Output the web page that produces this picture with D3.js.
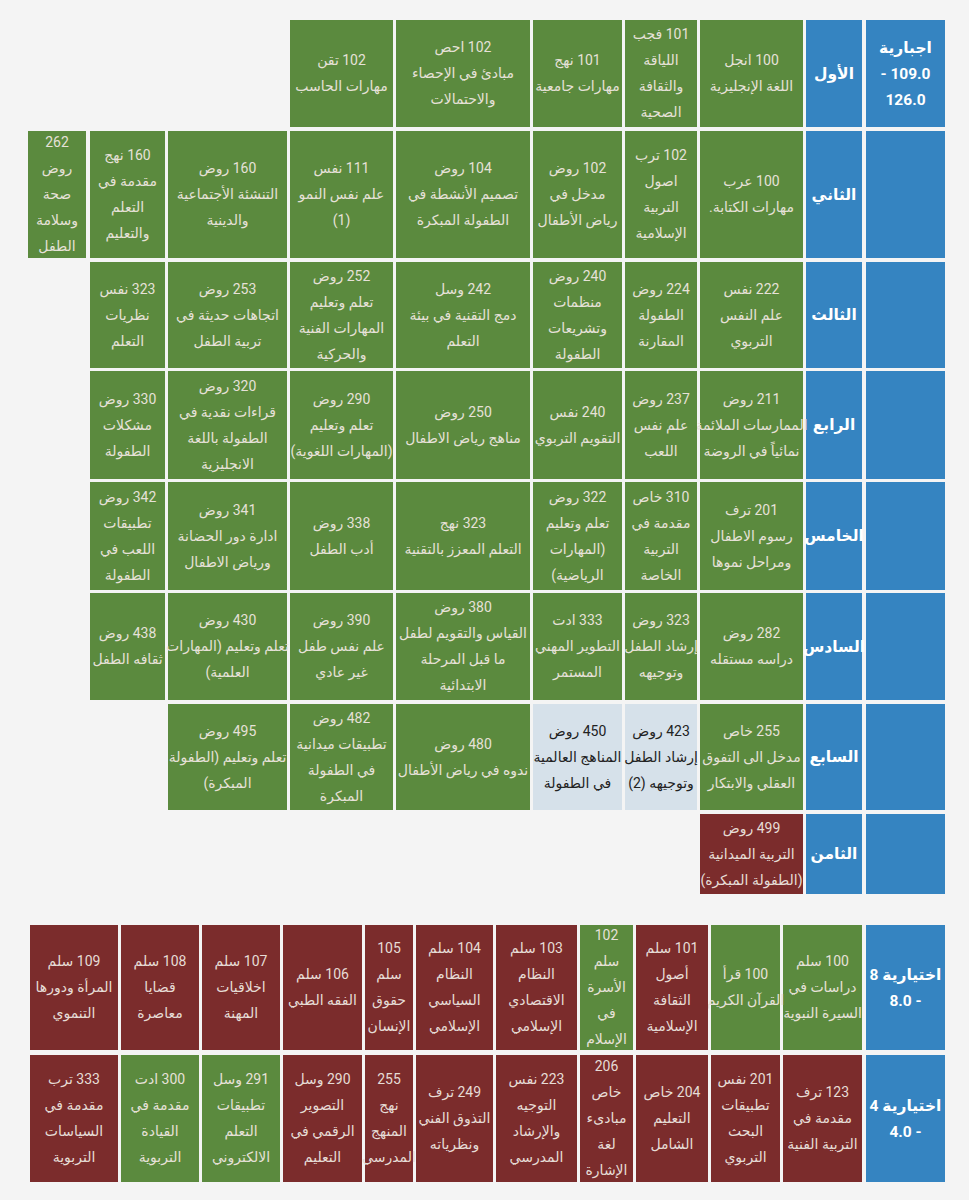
<!DOCTYPE html>
<html><head><meta charset="utf-8">
<script src="https://cdn.jsdelivr.net/npm/d3@7"></script>
<style>body{margin:0;background:#f4f4f4}</style>
</head><body>
<script>
// semester rows, right to left; tag: g = green, r = red, l = light
let semesters = ['الأول', 'الثاني', 'الثالث', 'الرابع', 'الخامس', 'السادس', 'السابع', 'الثامن'];
let semesterCourses = [
    [['g','100 انجل|اللغة الإنجليزية'], ['g','101 فجب|اللياقة|والثقافة|الصحية'], ['g','101 نهج|مهارات جامعية'], ['g','102 احص|مبادئ في الإحصاء|والاحتمالات'], ['g','102 تقن|مهارات الحاسب']],
    [['g','100 عرب|مهارات الكتابة.'], ['g','102 ترب|اصول|التربية|الإسلامية'], ['g','102 روض|مدخل في|رياض الأطفال'], ['g','104 روض|تصميم الأنشطة في|الطفولة المبكرة'], ['g','111 نفس|علم نفس النمو|(1)'], ['g','160 روض|التنشئة الأجتماعية|والدينية'], ['g','160 نهج|مقدمة في|التعلم|والتعليم'], ['g','262|روض|صحة|وسلامة|الطفل']],
    [['g','222 نفس|علم النفس|التربوي'], ['g','224 روض|الطفولة|المقارنة'], ['g','240 روض|منظمات|وتشريعات|الطفولة'], ['g','242 وسل|دمج التقنية في بيئة|التعلم'], ['g','252 روض|تعلم وتعليم|المهارات الفنية|والحركية'], ['g','253 روض|اتجاهات حديثة في|تربية الطفل'], ['g','323 نفس|نظريات|التعلم']],
    [['g','211 روض|الممارسات الملائمة|نمائياً في الروضة'], ['g','237 روض|علم نفس|اللعب'], ['g','240 نفس|التقويم التربوي'], ['g','250 روض|مناهج رياض الاطفال'], ['g','290 روض|تعلم وتعليم|(المهارات اللغوية)'], ['g','320 روض|قراءات نقدية في|الطفولة باللغة|الانجليزية'], ['g','330 روض|مشكلات|الطفولة']],
    [['g','201 ترف|رسوم الاطفال|ومراحل نموها'], ['g','310 خاص|مقدمة في|التربية|الخاصة'], ['g','322 روض|تعلم وتعليم|(المهارات|الرياضية)'], ['g','323 نهج|التعلم المعزز بالتقنية'], ['g','338 روض|أدب الطفل'], ['g','341 روض|ادارة دور الحضانة|ورياض الاطفال'], ['g','342 روض|تطبيقات|اللعب في|الطفولة']],
    [['g','282 روض|دراسه مستقله'], ['g','323 روض|إرشاد الطفل|وتوجيهه'], ['g','333 ادت|التطوير المهني|المستمر'], ['g','380 روض|القياس والتقويم لطفل|ما قبل المرحلة|الابتدائية'], ['g','390 روض|علم نفس طفل|غير عادي'], ['g','430 روض|تعلم وتعليم (المهارات|العلمية)'], ['g','438 روض|ثقافه الطفل']],
    [['g','255 خاص|مدخل الى التفوق|العقلي والابتكار'], ['l','423 روض|إرشاد الطفل|وتوجيهه (2)'], ['l','450 روض|المناهج العالمية|في الطفولة'], ['g','480 روض|ندوه في رياض الأطفال'], ['g','482 روض|تطبيقات ميدانية|في الطفولة|المبكرة'], ['g','495 روض|تعلم وتعليم (الطفولة|المبكرة)']],
    [['r','499 روض|التربية الميدانية|(الطفولة المبكرة)']]
];
let requiredLabel = 'اجبارية|109.0 -|126.0';

let electiveLabels = ['اختيارية 8|- 8.0', 'اختيارية 4|- 4.0'];
let electiveCourses = [
    [['g','100 سلم|دراسات في|السيرة النبوية'], ['g','100 قرأ|القرآن الكريم'], ['r','101 سلم|أصول|الثقافة|الإسلامية'], ['g','102|سلم|الأسرة|في|الإسلام'], ['r','103 سلم|النظام|الاقتصادي|الإسلامي'], ['r','104 سلم|النظام|السياسي|الإسلامي'], ['r','105|سلم|حقوق|الإنسان'], ['r','106 سلم|الفقه الطبي'], ['r','107 سلم|اخلاقيات|المهنة'], ['r','108 سلم|قضايا|معاصرة'], ['r','109 سلم|المرأة ودورها|التنموي']],
    [['r','123 ترف|مقدمة في|التربية الفنية'], ['r','201 نفس|تطبيقات|البحث|التربوي'], ['r','204 خاص|التعليم|الشامل'], ['r','206|خاص|مبادىء|لغة|الإشارة'], ['r','223 نفس|التوجيه|والإرشاد|المدرسي'], ['r','249 ترف|التذوق الفني|ونظرياته'], ['r','255|نهج|المنهج|المدرسي'], ['r','290 وسل|التصوير|الرقمي في|التعليم'], ['g','291 وسل|تطبيقات|التعلم|الالكتروني'], ['g','300 ادت|مقدمة في|القيادة|التربوية'], ['r','333 ترب|مقدمة في|السياسات|التربوية']]
];

// layout
let fills = {g: '#5b8a3e', r: '#7b2c2c', l: '#d6e1ea', b: '#3584c1'};
let inks = {g: '#e6e1d8', r: '#e6dcd6', l: '#222', b: '#fff'};
let topCols = [[866,945],[806,862],[700,803],[625,697],[533,622],[396,530],[290,393],[168,287],[90,165],[28,86]];
let topRows = [[20,127],[131,258],[262,368],[371,479],[482,590],[593,700],[704,810],[814,894]];
let botCols = [[866,945],[783,862],[711,780],[636,708],[580,633],[496,577],[416,493],[365,413],[283,362],[202,280],[121,199],[30,118]];
let botRows = [[925,1050],[1055,1182]];

let svg = d3.select('body').append('svg').attr('width', 969).attr('height', 1200);
svg.append('rect').attr('width', 969).attr('height', 1200).attr('fill', '#f4f4f4');

function drawCell(x0, x1, y0, y1, kind, text, bold) {
    svg.append('rect').attr('x', x0).attr('y', y0).attr('width', x1 - x0).attr('height', y1 - y0).attr('fill', fills[kind]);
    let lines = text.split('|');
    let lh = 26;
    let cy = (y0 + y1) / 2 - (lines.length - 1) * lh / 2;
    let t = svg.append('text')
        .attr('text-anchor', 'middle')
        .attr('direction', 'rtl')
        .attr('font-family', "Roboto, 'DejaVu Sans', sans-serif")
        .attr('font-size', bold ? 15.5 : 14)
        .attr('font-weight', bold ? 'bold' : 'normal')
        .attr('fill', inks[kind]);
    lines.forEach((ln, i) => {
        t.append('tspan').attr('x', (x0 + x1) / 2).attr('y', cy + i * lh).attr('dy', '0.35em').text(ln);
    });
}

let topX = d3.scaleOrdinal().domain(d3.range(topCols.length)).range(topCols);
let topY = d3.scaleOrdinal().domain(semesters).range(topRows);

semesters.forEach((s, i) => {
    let [y0, y1] = topY(s);
    let [a0, a1] = topX(0);
    drawCell(a0, a1, y0, y1, 'b', i === 0 ? requiredLabel : '', true);
    let [b0, b1] = topX(1);
    drawCell(b0, b1, y0, y1, 'b', s, true);
    semesterCourses[i].forEach((c, j) => {
        let [x0, x1] = topX(j + 2);
        drawCell(x0, x1, y0, y1, c[0], c[1], false);
    });
});

let botX = d3.scaleOrdinal().domain(d3.range(botCols.length)).range(botCols);
let botY = d3.scaleOrdinal().domain(electiveLabels).range(botRows);

electiveLabels.forEach((lab, i) => {
    let [y0, y1] = botY(lab);
    let [a0, a1] = botX(0);
    drawCell(a0, a1, y0, y1, 'b', lab, true);
    electiveCourses[i].forEach((c, j) => {
        let [x0, x1] = botX(j + 1);
        drawCell(x0, x1, y0, y1, c[0], c[1], false);
    });
});
</script>
</body></html>
